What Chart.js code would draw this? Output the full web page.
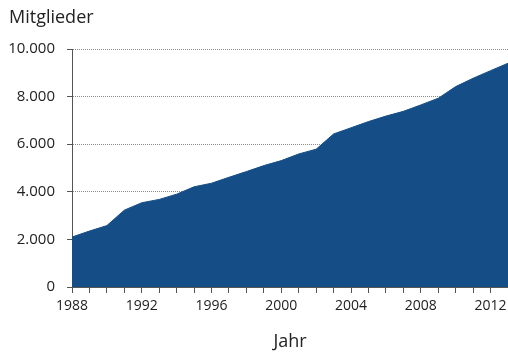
<!DOCTYPE html>
<html>
<head>
<meta charset="utf-8">
<script src="https://cdn.jsdelivr.net/npm/chart.js@4/dist/chart.umd.min.js"></script>
<style>
  html, body { margin: 0; padding: 0; background: #ffffff; }
  #wrap { position: relative; width: 508px; height: 354px; }
</style>
</head>
<body>
<div id="wrap"><canvas id="c" width="508" height="354"></canvas></div>
<script>
// Mitgliederzahl je Jahr
const years = [1988, 1989, 1990, 1991, 1992, 1993, 1994, 1995, 1996, 1997, 1998, 1999, 2000,
               2001, 2002, 2003, 2004, 2005, 2006, 2007, 2008, 2009, 2010, 2011, 2012, 2013];
const members = [2100, 2350, 2580, 3230, 3540, 3680, 3900, 4210, 4360, 4610, 4850, 5100, 5310,
                 5590, 5790, 6430, 6690, 6950, 7180, 7380, 7650, 7930, 8420, 8770, 9090, 9400];
const labeledYears = [1988, 1992, 1996, 2000, 2004, 2008, 2012];
const yTicks = [0, 2000, 4000, 6000, 8000, 10000];

const FONT = "'Open Sans', 'Noto Sans', sans-serif";
const TEXT = '#222222';

// Y-Achsentitel oben links
const topTitle = {
  id: 'topTitle',
  afterDraw(chart) {
    const ctx = chart.ctx;
    ctx.save();
    ctx.font = '18px ' + FONT;
    ctx.fillStyle = TEXT;
    ctx.textBaseline = 'middle';
    ctx.textAlign = 'left';
    ctx.fillText('Mitglieder', 9, 18);
    ctx.restore();
  }
};

const fmt = v => v.toLocaleString('de-DE');

new Chart(document.getElementById('c'), {
  type: 'line',
  data: {
    datasets: [{
      data: years.map((y, i) => ({ x: y, y: members[i] })),
      fill: 'origin',
      backgroundColor: '#154e86',
      borderColor: '#154e86',
      borderWidth: 1,
      pointRadius: 0,
      tension: 0
    }]
  },
  options: {
    responsive: false,
    animation: false,
    layout: { padding: { top: 49, left: 0, right: 0, bottom: 0 } },
    plugins: { legend: { display: false }, tooltip: { enabled: false } },
    scales: {
      x: {
        type: 'linear',
        min: 1988,
        max: 2013,
        afterBuildTicks(scale) {
          scale.ticks = years.map(v => ({ value: v }));
        },
        afterFit(scale) {
          scale.height = 67;
          scale.paddingLeft = 0;
          scale.paddingRight = 0;
        },
        ticks: {
          autoSkip: false,
          maxRotation: 0,
          padding: 5,
          color: TEXT,
          font: { family: FONT, size: 14 },
          callback: v => labeledYears.includes(v) ? String(v) : ''
        },
        grid: {
          drawOnChartArea: false,
          drawTicks: true,
          tickLength: 6,
          color: '#555555',
          lineWidth: 1
        },
        border: { display: true, color: '#555555', width: 1 },
        title: {
          display: true,
          text: 'Jahr',
          color: TEXT,
          font: { family: FONT, size: 18 },
          padding: { top: 0, bottom: 1 }
        }
      },
      y: {
        min: 0,
        max: 10000,
        afterBuildTicks(scale) {
          scale.ticks = yTicks.map(v => ({ value: v }));
        },
        afterFit(scale) { scale.width = 72; },
        ticks: {
          padding: 12,
          color: TEXT,
          font: { family: FONT, size: 15 },
          callback: v => fmt(v)
        },
        grid: {
          drawOnChartArea: true,
          drawTicks: true,
          tickLength: 5,
          color: ctx => ctx.tick && ctx.tick.value === 0 ? 'rgba(0,0,0,0)' : '#8a8a8a',
          tickColor: '#555555',
          lineWidth: 1,
          tickBorderDash: []
        },
        // dotted grid lines across the plot
        border: { display: true, color: '#555555', width: 1, dash: [1, 1] }
      }
    }
  },
  plugins: [topTitle]
});
</script>
</body>
</html>
